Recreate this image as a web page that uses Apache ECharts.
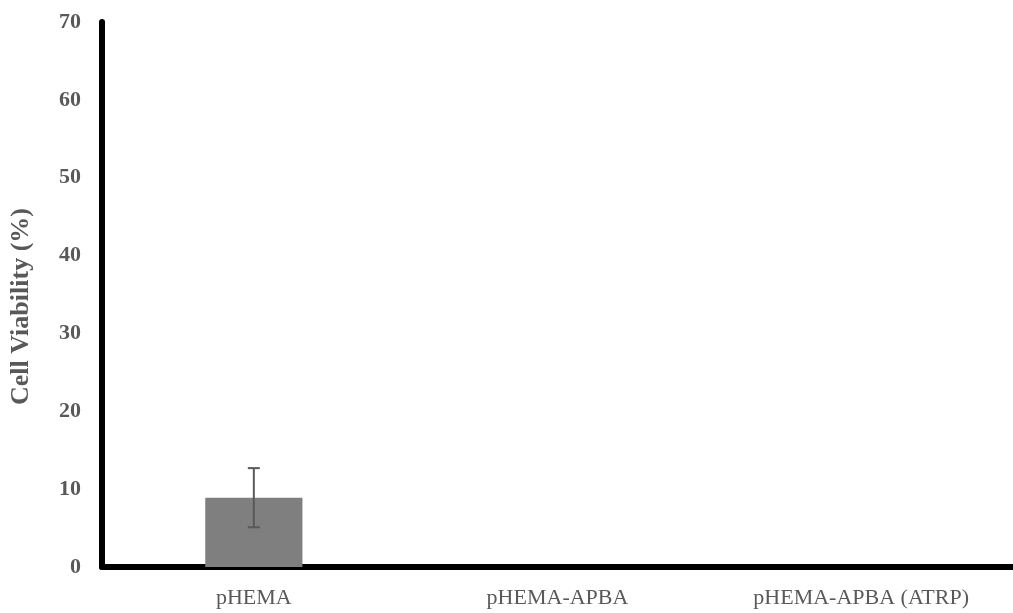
<!DOCTYPE html>
<html>
<head>
<meta charset="utf-8">
<style>
  html, body { margin: 0; padding: 0; background: #ffffff; }
  #chart { width: 1013px; height: 613px; }
</style>
<script src="https://cdn.jsdelivr.net/npm/echarts@6/dist/echarts.min.js"></script>
</head>
<body>
<div id="chart"></div>
<script>
// ---- data ----
var categories = ['pHEMA', 'pHEMA-APBA', 'pHEMA-APBA (ATRP)'];
var viability = [8.9, 0, 0];
var errors = [3.8, 0, 0];
var yTicks = [0, 10, 20, 30, 40, 50, 60, 70];
var yTitle = 'Cell Viability (%)';

var chart = echarts.init(document.getElementById('chart'), null, { renderer: 'canvas' });

var errorData = categories.map(function (c, i) {
  return [i, viability[i] - errors[i], viability[i] + errors[i], errors[i]];
});

var option = {
  animation: false,
  backgroundColor: '#ffffff',
  grid: { left: 95, right: 0, top: 22, bottom: 46, containLabel: false },
  xAxis: {
    type: 'category',
    data: categories,
    axisLine: { show: true, lineStyle: { color: '#000000', width: 6 } },
    axisTick: { show: false },
    axisLabel: {
      color: '#595959',
      fontFamily: 'Liberation Serif',
      fontSize: 22,
      margin: 20
    },
    splitLine: { show: false }
  },
  yAxis: {
    type: 'value',
    min: yTicks[0],
    max: yTicks[yTicks.length - 1],
    interval: 10,
    name: yTitle,
    nameLocation: 'middle',
    nameGap: 68,
    nameRotate: 90,
    nameTextStyle: {
      color: '#595959',
      fontFamily: 'Liberation Serif',
      fontWeight: 'bold',
      fontSize: 26,
      padding: [0, 24, 0, 0]
    },
    axisLine: { show: true, lineStyle: { color: '#000000', width: 6 } },
    axisTick: { show: false },
    splitLine: { show: false },
    axisLabel: {
      color: '#595959',
      fontFamily: 'Liberation Serif',
      fontWeight: 'bold',
      fontSize: 22,
      margin: 21
    }
  },
  series: [
    {
      type: 'bar',
      data: viability,
      barWidth: '32%',
      itemStyle: { color: '#7f7f7f' }
    },
    {
      type: 'custom',
      data: errorData,
      z: 10,
      renderItem: function (params, api) {
        if (api.value(3) === 0) return null;
        var x = api.value(0);
        var low = api.coord([x, api.value(1)]);
        var high = api.coord([x, api.value(2)]);
        var half = 6;
        var style = { stroke: '#595959', lineWidth: 2 };
        return {
          type: 'group',
          children: [
            { type: 'line', shape: { x1: high[0], y1: high[1], x2: low[0], y2: low[1] }, style: style },
            { type: 'line', shape: { x1: high[0] - half, y1: high[1], x2: high[0] + half, y2: high[1] }, style: style },
            { type: 'line', shape: { x1: low[0] - half, y1: low[1], x2: low[0] + half, y2: low[1] }, style: style }
          ]
        };
      }
    }
  ]
};
chart.setOption(option);
</script>
</body>
</html>
